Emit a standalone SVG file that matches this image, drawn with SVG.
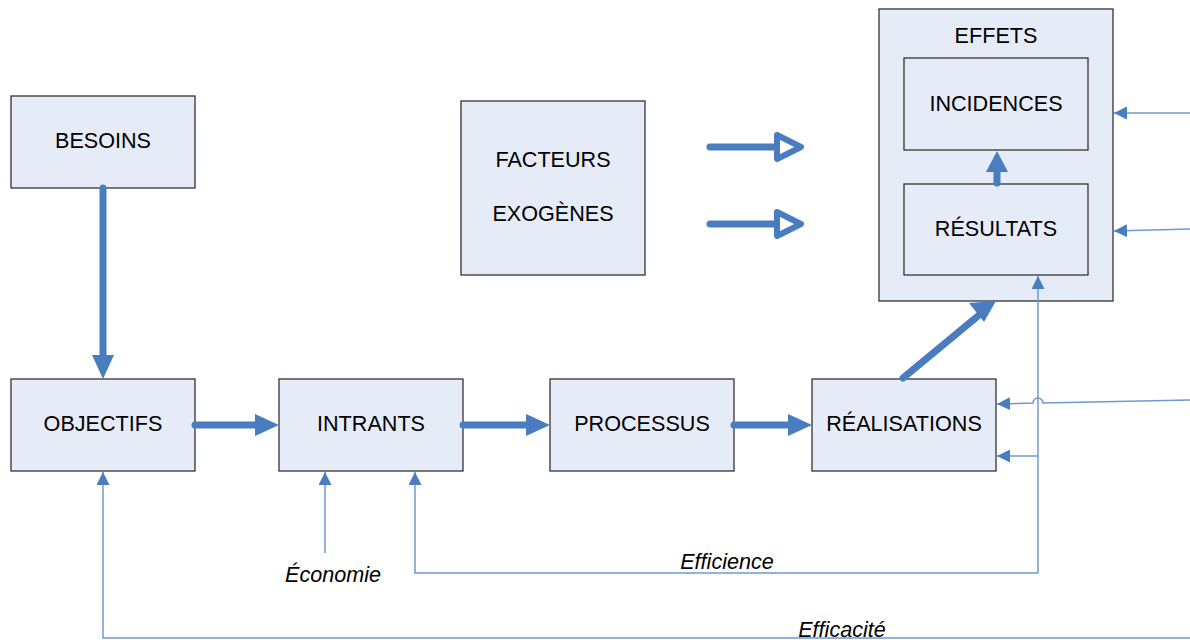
<svg xmlns="http://www.w3.org/2000/svg" width="1190" height="642" viewBox="0 0 1190 642">
<defs>
<style>
.box{fill:#e6ecf7;stroke:#333;stroke-width:1.3}
.lbl{font-family:"Liberation Sans",Arial,sans-serif;font-size:21.6px;fill:#000;text-anchor:middle}
.it{font-family:"Liberation Sans",Arial,sans-serif;font-size:21.6px;font-style:italic;fill:#000;text-anchor:middle}
.thick{stroke:#4a7cc0;stroke-width:7;fill:none;stroke-linecap:round}
.thin{stroke:#6f98d0;stroke-width:1.5;fill:none}
.head{fill:#4a7cc0}
</style>
<marker id="sm" viewBox="0 0 10 10" refX="10" refY="5" markerWidth="13" markerHeight="13" markerUnits="userSpaceOnUse" orient="auto">
<path d="M0,0 L10,5 L0,10 Z" fill="#4a7cc0"/>
</marker>
</defs>
<g id="effets"><rect class="box" x="879" y="9" width="234" height="292"/><text class="lbl" x="996" y="43">EFFETS</text></g>
<g id="incidences"><rect class="box" x="904" y="58" width="184" height="92"/><text class="lbl" x="996" y="111">INCIDENCES</text></g>
<g id="resultats"><rect class="box" x="904" y="184" width="184" height="91"/><text class="lbl" x="996" y="236">RÉSULTATS</text></g>
<g id="besoins"><rect class="box" x="11" y="96" width="184" height="92"/><text class="lbl" x="103" y="148">BESOINS</text></g>
<g id="objectifs"><rect class="box" x="11" y="379" width="184" height="92"/><text class="lbl" x="103" y="431">OBJECTIFS</text></g>
<g id="intrants"><rect class="box" x="279" y="379" width="184" height="92"/><text class="lbl" x="371" y="431">INTRANTS</text></g>
<g id="processus"><rect class="box" x="550" y="379" width="184" height="92"/><text class="lbl" x="642" y="431">PROCESSUS</text></g>
<g id="realisations"><rect class="box" x="812" y="379" width="184" height="92"/><text class="lbl" x="904" y="431">RÉALISATIONS</text></g>
<g id="facteurs"><rect class="box" x="461" y="101" width="184" height="174"/><text class="lbl" x="553" y="167">FACTEURS</text><text class="lbl" x="553" y="221">EXOGÈNES</text></g>
<g id="connectors">
<line class="thick" x1="103" y1="188" x2="103" y2="356"/>
<path class="head" d="M92,355 L114,355 L103,379 Z"/>
<line class="thick" x1="195" y1="425" x2="256" y2="425"/>
<path class="head" d="M255,414 L255,436 L279,425 Z"/>
<line class="thick" x1="463" y1="425" x2="527" y2="425"/>
<path class="head" d="M526,414 L526,436 L550,425 Z"/>
<line class="thick" x1="734" y1="425" x2="789" y2="425"/>
<path class="head" d="M788,414 L788,436 L812,425 Z"/>
<line class="thick" x1="903" y1="378" x2="978" y2="316"/>
<path class="head" d="M969,303 L984,322 L996,301 Z"/>
<line class="thick" x1="997" y1="183" x2="997" y2="170"/>
<path class="head" d="M986,172 L1008,172 L997,151 Z"/>
<line class="thick" x1="710" y1="147" x2="777" y2="147"/>
<path d="M777,135 L801,147 L777,159 Z" fill="#fff" stroke="#4a7cc0" stroke-width="6" stroke-linejoin="round"/>
<line class="thick" x1="710" y1="224" x2="777" y2="224"/>
<path d="M777,212 L801,224 L777,236 Z" fill="#fff" stroke="#4a7cc0" stroke-width="6" stroke-linejoin="round"/>
<line class="thin" x1="1190" y1="113" x2="1114" y2="113" marker-end="url(#sm)"/>
<line class="thin" x1="1190" y1="229" x2="1114" y2="231" marker-end="url(#sm)"/>
<path class="thin" d="M1190,400 L1043,403 A5,5 0 0 0 1033,403 L997,404" marker-end="url(#sm)"/>
<line class="thin" x1="1038" y1="573" x2="1038" y2="276" marker-end="url(#sm)"/>
<line class="thin" x1="1038" y1="456" x2="997" y2="456" marker-end="url(#sm)"/>
<path class="thin" d="M1038,573 L415,573 L415,472" marker-end="url(#sm)"/>
<line class="thin" x1="325" y1="553" x2="325" y2="472" marker-end="url(#sm)"/>
<path class="thin" d="M1190,638 L103,638 L103,472" marker-end="url(#sm)"/>
</g>
<text class="it" x="333" y="582">Économie</text>
<text class="it" x="727" y="569">Efficience</text>
<text class="it" x="842" y="637">Efficacité</text>
</svg>
